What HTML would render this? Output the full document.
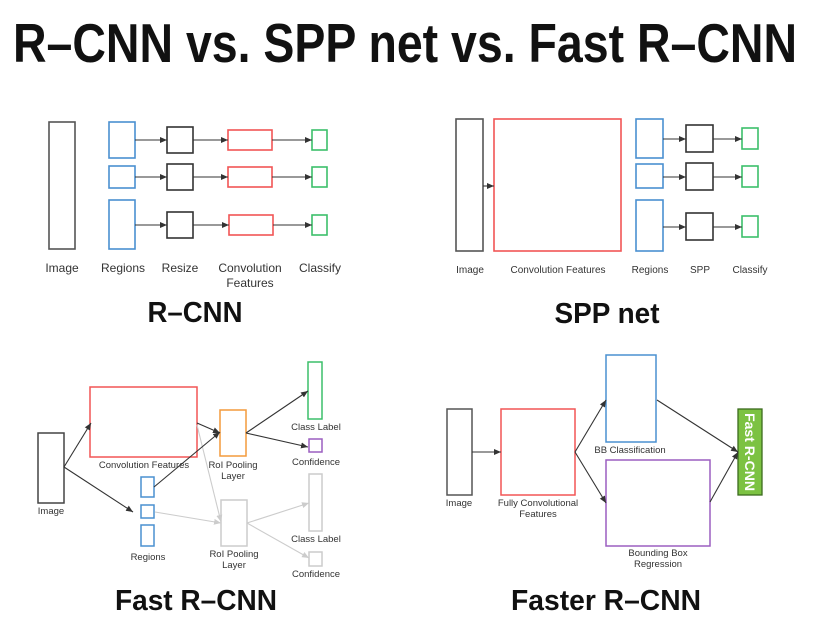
<!DOCTYPE html>
<html><head><meta charset="utf-8"><style>
html,body{margin:0;padding:0;background:#fff}
svg{display:block}
text{font-family:"Liberation Sans",sans-serif;fill:#333}
.t{font-weight:bold;fill:#111}
</style></head><body>
<svg width="820" height="630" viewBox="0 0 820 630" xmlns="http://www.w3.org/2000/svg">
<defs>
<marker id="a" markerWidth="8" markerHeight="8" refX="7" refY="4" orient="auto" markerUnits="userSpaceOnUse"><path d="M0,1 L7,4 L0,7 z" fill="#333"/></marker>
<marker id="g" markerWidth="8" markerHeight="8" refX="7" refY="4" orient="auto" markerUnits="userSpaceOnUse"><path d="M0,1 L7,4 L0,7 z" fill="#ccc"/></marker>
</defs>
<text class="t" x="13" y="62" font-size="55" textLength="784" lengthAdjust="spacingAndGlyphs">R–CNN vs. SPP net vs. Fast R–CNN</text>

<!-- R-CNN -->
<g fill="none" stroke-width="1.6">
<rect x="49" y="122" width="26" height="127" stroke="#555"/>
<rect x="109" y="122" width="26" height="36" stroke="#4a90d0"/>
<rect x="109" y="166" width="26" height="22" stroke="#4a90d0"/>
<rect x="109" y="200" width="26" height="49" stroke="#4a90d0"/>
<rect x="167" y="127" width="26" height="26" stroke="#333"/>
<rect x="167" y="164" width="26" height="26" stroke="#333"/>
<rect x="167" y="212" width="26" height="26" stroke="#333"/>
<rect x="228" y="130" width="44" height="20" stroke="#f25555"/>
<rect x="228" y="167" width="44" height="20" stroke="#f25555"/>
<rect x="229" y="215" width="44" height="20" stroke="#f25555"/>
<rect x="312" y="130" width="15" height="20" stroke="#3cbf6a"/>
<rect x="312" y="167" width="15" height="20" stroke="#3cbf6a"/>
<rect x="312" y="215" width="15" height="20" stroke="#3cbf6a"/>
</g>
<g stroke="#333" stroke-width="1.1" marker-end="url(#a)">
<line x1="135" y1="140" x2="167" y2="140"/><line x1="193" y1="140" x2="228" y2="140"/><line x1="272" y1="140" x2="312" y2="140"/>
<line x1="135" y1="177" x2="167" y2="177"/><line x1="193" y1="177" x2="228" y2="177"/><line x1="272" y1="177" x2="312" y2="177"/>
<line x1="135" y1="225" x2="167" y2="225"/><line x1="193" y1="225" x2="229" y2="225"/><line x1="273" y1="225" x2="312" y2="225"/>
</g>
<g font-size="12" text-anchor="middle">
<text x="62" y="272">Image</text><text x="123" y="272">Regions</text><text x="180" y="272">Resize</text>
<text x="250" y="272">Convolution</text><text x="250" y="287">Features</text><text x="320" y="272">Classify</text>
</g>
<text class="t" x="195" y="322" font-size="29" text-anchor="middle" textLength="95" lengthAdjust="spacingAndGlyphs">R–CNN</text>

<!-- SPP -->
<g fill="none" stroke-width="1.6">
<rect x="456" y="119" width="27" height="132" stroke="#555"/>
<rect x="494" y="119" width="127" height="132" stroke="#f25555"/>
<rect x="636" y="119" width="27" height="39" stroke="#4a90d0"/>
<rect x="636" y="164" width="27" height="24" stroke="#4a90d0"/>
<rect x="636" y="200" width="27" height="51" stroke="#4a90d0"/>
<rect x="686" y="125" width="27" height="27" stroke="#333"/>
<rect x="686" y="163" width="27" height="27" stroke="#333"/>
<rect x="686" y="213" width="27" height="27" stroke="#333"/>
<rect x="742" y="128" width="16" height="21" stroke="#3cbf6a"/>
<rect x="742" y="166" width="16" height="21" stroke="#3cbf6a"/>
<rect x="742" y="216" width="16" height="21" stroke="#3cbf6a"/>
</g>
<g stroke="#333" stroke-width="1.1" marker-end="url(#a)">
<line x1="483" y1="186" x2="494" y2="186"/>
<line x1="663" y1="139" x2="686" y2="139"/><line x1="713" y1="139" x2="742" y2="139"/>
<line x1="663" y1="177" x2="686" y2="177"/><line x1="713" y1="177" x2="742" y2="177"/>
<line x1="663" y1="227" x2="686" y2="227"/><line x1="713" y1="227" x2="742" y2="227"/>
</g>
<g font-size="10" text-anchor="middle">
<text x="470" y="273">Image</text><text x="558" y="273">Convolution Features</text><text x="650" y="273">Regions</text>
<text x="700" y="273">SPP</text><text x="750" y="273">Classify</text>
</g>
<text class="t" x="607" y="323" font-size="29" text-anchor="middle" textLength="105" lengthAdjust="spacingAndGlyphs">SPP net</text>

<!-- Fast R-CNN -->
<g fill="none" stroke-width="1.5">
<rect x="38" y="433" width="26" height="70" stroke="#444"/>
<rect x="90" y="387" width="107" height="70" stroke="#f25555"/>
<rect x="220" y="410" width="26" height="46" stroke="#f39a3c"/>
<rect x="308" y="362" width="14" height="57" stroke="#3cbf6a"/>
<rect x="309" y="439" width="13" height="13" stroke="#9b5fc0"/>
<rect x="141" y="477" width="13" height="20" stroke="#4a90d0"/>
<rect x="141" y="505" width="13" height="13" stroke="#4a90d0"/>
<rect x="141" y="525" width="13" height="21" stroke="#4a90d0"/>
<rect x="221" y="500" width="26" height="46" stroke="#ccc"/>
<rect x="309" y="474" width="13" height="57" stroke="#ccc"/>
<rect x="309" y="552" width="13" height="14" stroke="#ccc"/>
</g>
<g stroke="#ccc" stroke-width="1.1" marker-end="url(#g)">
<line x1="197" y1="425" x2="221" y2="522"/><line x1="155" y1="512" x2="221" y2="523"/>
<line x1="247" y1="523" x2="309" y2="503"/><line x1="247" y1="523" x2="309" y2="558"/>
</g>
<g stroke="#333" stroke-width="1.1" marker-end="url(#a)">
<line x1="64" y1="467" x2="91" y2="423"/><line x1="64" y1="467" x2="133" y2="512"/>
<line x1="197" y1="423" x2="220" y2="433"/><line x1="154" y1="487" x2="220" y2="432"/>
<line x1="246" y1="433" x2="308" y2="391"/><line x1="246" y1="433" x2="308" y2="447"/>
</g>
<g font-size="9.5" text-anchor="middle">
<text x="51" y="514">Image</text><text x="144" y="468">Convolution Features</text>
<text x="233" y="468">RoI Pooling</text><text x="233" y="479">Layer</text>
<text x="316" y="430">Class Label</text><text x="316" y="465">Confidence</text>
<text x="148" y="560">Regions</text>
<text x="234" y="557">RoI Pooling</text><text x="234" y="568">Layer</text>
<text x="316" y="542">Class Label</text><text x="316" y="577">Confidence</text>
</g>
<text class="t" x="196" y="610" font-size="29" text-anchor="middle" textLength="162" lengthAdjust="spacingAndGlyphs">Fast R–CNN</text>

<!-- Faster R-CNN -->
<g fill="none" stroke-width="1.5">
<rect x="447" y="409" width="25" height="86" stroke="#555"/>
<rect x="501" y="409" width="74" height="86" stroke="#f25555"/>
<rect x="606" y="355" width="50" height="87" stroke="#4a90d0"/>
<rect x="606" y="460" width="104" height="86" stroke="#9b5fc0"/>
</g>
<rect x="738" y="409" width="24" height="86" fill="#7cc242" stroke="#3b6b1e" stroke-width="1.3"/>
<text x="0" y="0" font-size="14" font-weight="bold" style="fill:#fff" text-anchor="middle" transform="translate(745,452) rotate(90)" textLength="78" lengthAdjust="spacingAndGlyphs">Fast R-CNN</text>
<g stroke="#333" stroke-width="1.1" marker-end="url(#a)">
<line x1="472" y1="452" x2="501" y2="452"/>
<line x1="575" y1="452" x2="606" y2="400"/><line x1="575" y1="452" x2="606" y2="503"/>
<line x1="657" y1="400" x2="738" y2="452"/><line x1="710" y1="502" x2="738" y2="452"/>
</g>
<g font-size="9.5" text-anchor="middle">
<text x="459" y="506">Image</text><text x="538" y="506">Fully Convolutional</text><text x="538" y="517">Features</text>
<text x="630" y="453">BB Classification</text>
<text x="658" y="556">Bounding Box</text><text x="658" y="567">Regression</text>
</g>
<text class="t" x="606" y="610" font-size="29" text-anchor="middle" textLength="190" lengthAdjust="spacingAndGlyphs">Faster R–CNN</text>
</svg>
</body></html>
